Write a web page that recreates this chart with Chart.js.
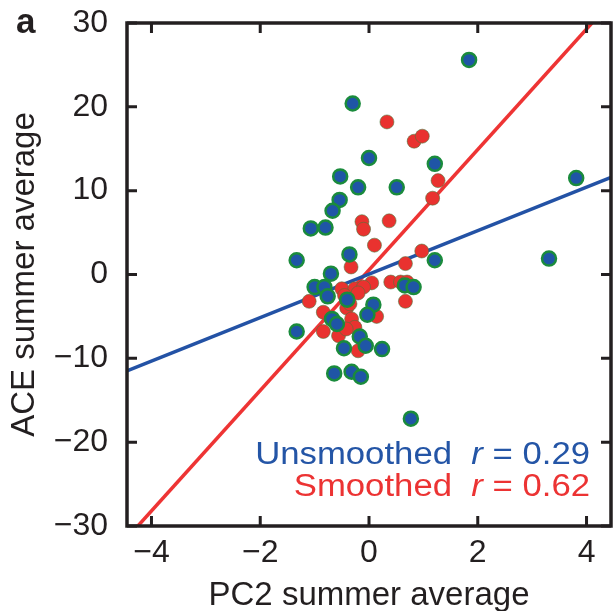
<!DOCTYPE html>
<html>
<head>
<meta charset="utf-8">
<script src="https://cdn.jsdelivr.net/npm/chart.js@4.4.1/dist/chart.umd.min.js"></script>
<style>
  html, body { margin: 0; padding: 0; background: #fff; }
  #wrap { width: 613px; height: 611px; }
</style>
</head>
<body>
<div id="wrap"><canvas id="grafico" width="613" height="611"></canvas></div>
<script>
// PC2 vs ACE, médias de verão
const unsmoothedX = [1.84, -0.30, 0.00, -0.53, -0.20, 0.51, 1.21, -0.54, -0.67, -1.07, -0.80, -1.33,
  -0.36, -0.70, 1.21, 3.31, 3.81, -1.00, -0.82, -0.76, -0.40, 0.08, -0.03, 0.66, 0.82, -1.33,
  -0.68, -0.59, -0.46, -0.17, -0.06, 0.24, -0.64, -0.32, -0.15, 0.77];
const unsmoothedY = [25.6, 20.4, 13.9, 11.7, 10.4, 10.4, 13.2, 8.9, 7.6, 5.5, 5.6, 1.7,
  2.4, 0.1, 1.7, 1.9, 11.5, -1.5, -1.5, -2.6, -3.0, -3.6, -4.8, -1.3, -1.5, -6.8,
  -5.3, -5.9, -8.8, -7.4, -8.5, -8.9, -11.8, -11.6, -12.2, -17.2];

const smoothedX = [0.33, 0.83, 0.98, 1.27, 1.17, -0.13, -0.10, 0.37, 0.10, 0.97, -0.33, 0.67,
  0.40, 0.58, 0.05, -1.10, 0.67, -0.84, -0.84, -0.50, -0.26, -0.10, -0.41, -0.32, -0.26,
  -0.56, 0.14, -0.20, -0.45, -0.35, 0.70, -0.20, -0.42];
const smoothedY = [18.2, 15.9, 16.5, 11.2, 9.1, 6.3, 5.4, 6.4, 3.5, 2.8, 0.9, 1.3,
  -0.9, -0.9, -1.0, -3.2, -3.2, -4.5, -6.8, -1.7, -1.7, -1.5, -4.0, -5.3, -6.3,
  -7.3, -5.0, -9.1, -2.5, -3.5, -0.9, -2.2, -6.5];

// retas de regressão (extremos)
const fitUnsmoothedX = [-4.45, 4.45];
const fitUnsmoothedY = [-11.5, 11.6];
const fitSmoothedX = [-4.25, 4.10];
const fitSmoothedY = [-30, 30];

const xTicks = [-4, -2, 0, 2, 4];
const yTicks = [-30, -20, -10, 0, 10, 20, 30];

const legendas = [
  { nome: 'Unsmoothed', r: '0.29', cor: '#2455a6' },
  { nome: 'Smoothed', r: '0.62', cor: '#ec3333' }
];

const FONTE = 'Liberation Sans, Helvetica, Arial, sans-serif';
const AZUL = '#1f55a6';
const VERDE = '#1a8b3c';
const VERMELHO = '#e9322f';

function pares(xs, ys) {
  return xs.map((x, i) => ({ x: x, y: ys[i] }));
}

function menos(v) {
  return String(v).replace('-', '\u2212');
}

// moldura com marcas de escala para dentro
const moldura = {
  id: 'moldura',
  afterDraw(chart) {
    const ctx = chart.ctx;
    const a = chart.chartArea;
    const sx = chart.scales.x;
    const sy = chart.scales.y;
    const t = 10;
    ctx.save();
    ctx.strokeStyle = '#231f20';
    ctx.lineWidth = 3.5;
    ctx.strokeRect(a.left, a.top, a.right - a.left, a.bottom - a.top);
    ctx.lineWidth = 3;
    ctx.beginPath();
    xTicks.forEach(v => {
      const px = sx.getPixelForValue(v);
      ctx.moveTo(px, a.bottom); ctx.lineTo(px, a.bottom - t);
      ctx.moveTo(px, a.top); ctx.lineTo(px, a.top + t);
    });
    yTicks.forEach(v => {
      const py = sy.getPixelForValue(v);
      ctx.moveTo(a.left, py); ctx.lineTo(a.left + t, py);
      ctx.moveTo(a.right, py); ctx.lineTo(a.right - t, py);
    });
    ctx.stroke();

    // letra do painel
    ctx.fillStyle = '#231f20';
    ctx.font = 'bold 35px ' + FONTE;
    ctx.textAlign = 'left';
    ctx.textBaseline = 'alphabetic';
    ctx.fillText('a', 16, 33);

    // legenda com r em itálico
    const direita = 590;
    const estica = 1.12;
    legendas.forEach((l, i) => {
      const base = 464 + i * 32;
      const partes = [
        { t: l.nome + '  ', it: false },
        { t: 'r', it: true },
        { t: ' = ' + l.r, it: false }
      ];
      let total = 0;
      partes.forEach(p => {
        ctx.font = (p.it ? 'italic ' : '') + '31px ' + FONTE;
        p.w = ctx.measureText(p.t).width;
        total += p.w;
      });
      ctx.save();
      ctx.translate(direita - total * estica, base);
      ctx.scale(estica, 1);
      ctx.fillStyle = l.cor;
      ctx.textAlign = 'left';
      let x = 0;
      partes.forEach(p => {
        ctx.font = (p.it ? 'italic ' : '') + '31px ' + FONTE;
        ctx.fillText(p.t, x, 0);
        x += p.w;
      });
      ctx.restore();
    });
    ctx.restore();
  }
};

new Chart(document.getElementById('grafico'), {
  type: 'scatter',
  data: {
    datasets: [
      {
        label: 'Unsmoothed',
        data: pares(unsmoothedX, unsmoothedY),
        backgroundColor: AZUL,
        borderColor: VERDE,
        borderWidth: 2.5,
        pointRadius: 7,
        order: 1
      },
      {
        label: 'Smoothed',
        data: pares(smoothedX, smoothedY),
        backgroundColor: VERMELHO,
        borderColor: 'rgba(70,120,60,0.55)',
        borderWidth: 1,
        pointRadius: 7,
        order: 2
      },
      {
        type: 'line',
        label: 'Ajuste unsmoothed',
        data: pares(fitUnsmoothedX, fitUnsmoothedY),
        borderColor: '#2352a5',
        borderWidth: 3.5,
        pointRadius: 0,
        fill: false,
        order: 3
      },
      {
        type: 'line',
        label: 'Ajuste smoothed',
        data: pares(fitSmoothedX, fitSmoothedY),
        borderColor: '#ee3434',
        borderWidth: 3.5,
        pointRadius: 0,
        fill: false,
        order: 3
      }
    ]
  },
  options: {
    responsive: false,
    animation: false,
    layout: { autoPadding: false, padding: { top: 23, right: 2, left: 0, bottom: 0 } },
    plugins: {
      legend: { display: false },
      tooltip: { enabled: false }
    },
    scales: {
      x: {
        type: 'linear',
        min: -4.45,
        max: 4.45,
        afterFit(s) {
          s.height = 85;
          s.paddingLeft = 0;
          s.paddingRight = 0;
        },
        grid: { display: false, drawTicks: false },
        border: { display: false },
        ticks: {
          stepSize: 2,
          includeBounds: false,
          padding: 8,
          color: '#231f20',
          font: { family: FONTE, size: 32 },
          callback: v => menos(v)
        },
        title: {
          display: true,
          text: 'PC2 summer average',
          color: '#231f20',
          font: { family: FONTE, size: 33, lineHeight: 0.9 },
          padding: 0
        }
      },
      y: {
        type: 'linear',
        min: -30,
        max: 30,
        afterFit(s) {
          s.width = 127;
          s.paddingTop = 0;
          s.paddingBottom = 0;
        },
        grid: { display: false, drawTicks: false },
        border: { display: false },
        ticks: {
          stepSize: 10,
          padding: 19,
          color: '#231f20',
          font: { family: FONTE, size: 32 },
          callback: v => menos(v)
        },
        title: {
          display: true,
          text: 'ACE summer average',
          color: '#231f20',
          font: { family: FONTE, size: 33, lineHeight: 0.9 },
          padding: { top: 10, bottom: 0 }
        }
      }
    }
  },
  plugins: [moldura]
});
</script>
</body>
</html>
